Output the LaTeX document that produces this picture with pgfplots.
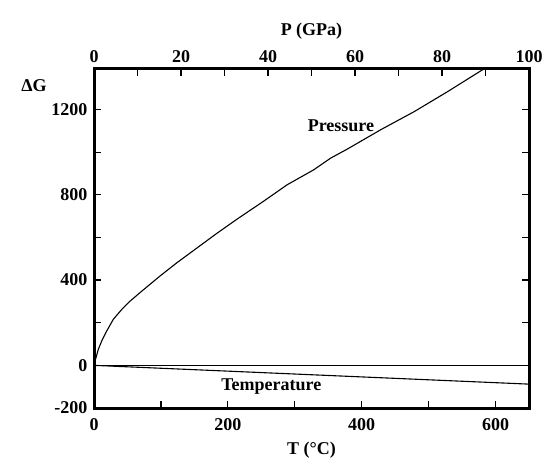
\documentclass[border=0pt]{standalone}
\usepackage{fontspec}
\setmainfont{Liberation Serif}
\usepackage{pgfplots}
\pgfplotsset{compat=1.18}

\tikzset{gfont/.style={font=\fontsize{18}{21}\selectfont\bfseries}}
\pgfplotsset{
  common/.style={
    scale only axis, width=435pt, height=339pt,
    ymin=-200, ymax=1390,
    axis line style={line width=3pt},
    major tick length=7pt,
    every tick/.style={black, line width=1.2pt},
    tick label style={gfont},
    label style={gfont},
    /pgf/number format/assume math mode=true,
  },
}

\begin{document}
\begin{tikzpicture}
% temperature axis (bottom) with the full frame
\begin{axis}[common, name=ax,
    xmin=0, xmax=650,
    xtick={0,100,...,600},
    xticklabels={0,,200,,400,,600},
    xtick pos=left,
    xticklabel style={yshift=-7pt},
    ytick={-200,0,...,1200},
    yticklabels={-200,0,,400,,800,,1200},
    ytick pos=both, yticklabel pos=left,
    yticklabel style={xshift=-3pt},
    xlabel={T (°C)},
    xlabel style={yshift=-4pt},
    every axis y label/.style={at={(axis description cs:-0.138,0.95)}, anchor=center, gfont},
    ylabel={ΔG},
]
\addplot[black, line width=1.1pt] coordinates {(0,0) (650,0)};
\addplot[black, line width=1.1pt] coordinates {(0,0) (650,-88)};
\node[gfont] at (axis cs:265,-100) {Temperature};
\node[gfont] at (axis cs:369,1126) {Pressure};
\end{axis}
% pressure axis (top)
\begin{axis}[common,
    xmin=0, xmax=100,
    axis x line*=top, axis y line=none,
    xtick={0,10,...,100},
    xticklabels={0,,20,,40,,60,,80,,100},
    xticklabel style={yshift=3pt},
    xlabel={P (GPa)},
    xlabel style={yshift=4pt},
]
\addplot[black, line width=1.1pt] coordinates {
(0,0) (0.15,15) (0.46,36) (0.99,75) (1.77,114) (2.92,161) (4.44,216)
(6.37,262) (8.28,301) (10.57,341) (12.87,380) (15.17,419) (19.1,482)
(23.7,551) (28.3,620) (32.9,686) (39.0,770) (44.4,847) (50.5,917)
(54.4,972) (58.2,1014) (65.9,1105) (73.6,1190) (81.3,1284) (89.6,1390)
};
\end{axis}
\path[use as bounding box] ([xshift=-94pt,yshift=-58pt]ax.south west)
  rectangle ([xshift=29pt,yshift=69pt]ax.north east);
\end{tikzpicture}
\end{document}
